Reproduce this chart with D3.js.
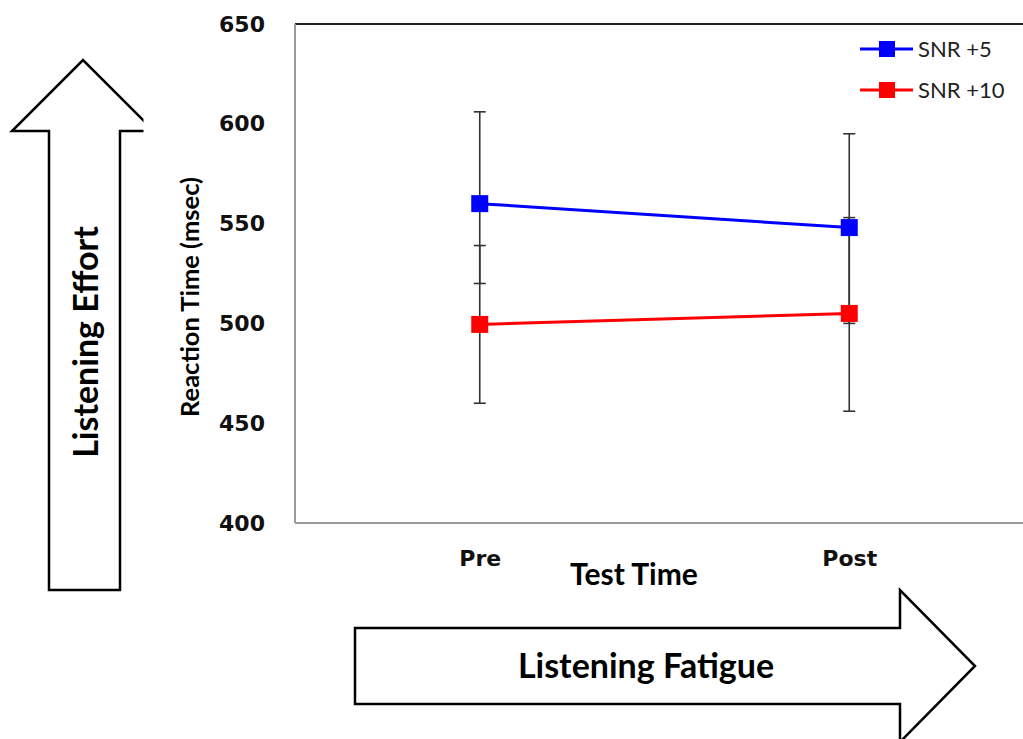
<!DOCTYPE html>
<html>
<head>
<meta charset="utf-8">
<script src="https://cdn.jsdelivr.net/npm/d3@7"></script>
<style>
  body { margin: 0; background: #fff; }
  svg { display: block; }
</style>
</head>
<body>
<svg id="grafica" width="1023" height="739"></svg>
<script>
// data
var categories = ["Pre", "Post"];
var seriesNames = ["SNR +5", "SNR +10"];
var seriesColors = ["#0000ff", "#ff0000"];
var snr5 = [560, 548];
var snr10 = [499.5, 505];
var snr5Low = [520, 500];
var snr5High = [606, 595];
var snr10Low = [460, 456];
var snr10High = [539, 553];
var yTicks = [400, 450, 500, 550, 600, 650];

var series = [
  {name: seriesNames[0], color: seriesColors[0], values: snr5, low: snr5Low, high: snr5High},
  {name: seriesNames[1], color: seriesColors[1], values: snr10, low: snr10Low, high: snr10High}
];

var svg = d3.select("#grafica");
var plot = {left: 295, top: 24, right: 1034, bottom: 523};

var x = d3.scalePoint()
  .domain(categories)
  .range([plot.left, plot.right])
  .padding(0.5);

var y = d3.scaleLinear()
  .domain([400, 650])
  .range([plot.bottom, plot.top]);

// side arrows
var clip = svg.append("clipPath").attr("id", "leftclip")
clip.append("rect").attr("x", 0).attr("y", 0).attr("width", 143.5).attr("height", 739);

var upArrow = [[49, 590], [49, 131], [12, 131], [83, 60], [154, 131], [120, 131], [120, 590]];
svg.append("path")
  .attr("clip-path", "url(#leftclip)")
  .attr("d", "M" + upArrow.join("L") + "Z")
  .attr("fill", "#fff")
  .attr("stroke", "#000")
  .attr("stroke-width", 2.5)
  .attr("stroke-linejoin", "miter");

svg.append("text")
  .attr("transform", "translate(86,342) rotate(-90)")
  .attr("text-anchor", "middle")
  .attr("dy", "0.35em")
  .style("font-family", "Lato, 'Open Sans', sans-serif")
  .style("font-weight", "bold")
  .style("font-size", "34px")
  .text("Listening Effort");

var rightArrow = [[355, 628], [900, 628], [900, 590], [975, 666], [900, 742], [900, 704], [355, 704]];
svg.append("path")
  .attr("d", "M" + rightArrow.join("L") + "Z")
  .attr("fill", "#fff")
  .attr("stroke", "#000")
  .attr("stroke-width", 2.5);

svg.append("text")
  .attr("x", 646)
  .attr("y", 666)
  .attr("text-anchor", "middle")
  .attr("dy", "0.35em")
  .style("font-family", "Lato, 'Open Sans', sans-serif")
  .style("font-weight", "bold")
  .style("font-size", "34px")
  .text("Listening Fatigue");

// plot frame
svg.append("line")
  .attr("x1", plot.left).attr("x2", 1023)
  .attr("y1", plot.top).attr("y2", plot.top)
  .attr("stroke", "#222").attr("stroke-width", 2);
svg.append("line")
  .attr("x1", plot.left).attr("x2", 1023)
  .attr("y1", plot.bottom).attr("y2", plot.bottom)
  .attr("stroke", "#999").attr("stroke-width", 2);
svg.append("line")
  .attr("x1", plot.left).attr("x2", plot.left)
  .attr("y1", plot.top).attr("y2", plot.bottom)
  .attr("stroke", "#999").attr("stroke-width", 2);

// axes
var yAxis = svg.append("g")
  .attr("transform", `translate(${plot.left},0)`)
  .call(d3.axisLeft(y).tickValues(yTicks).tickSize(0).tickPadding(30));
yAxis.select(".domain").remove();
yAxis.selectAll("text")
  .style("font-family", "'DejaVu Sans', sans-serif")
  .style("font-weight", "bold")
  .style("font-size", "22px")
  .attr("fill", "#111");

var xAxis = svg.append("g")
  .attr("transform", `translate(0,${plot.bottom})`)
  .call(d3.axisBottom(x).tickSize(0).tickPadding(27));
xAxis.select(".domain").remove();
xAxis.selectAll("text")
  .style("font-family", "'DejaVu Sans', sans-serif")
  .style("font-weight", "bold")
  .style("font-size", "22px")
  .attr("fill", "#111");

svg.append("text")
  .attr("transform", "translate(190,297) rotate(-90)")
  .attr("text-anchor", "middle")
  .attr("dy", "0.35em")
  .style("font-family", "Lato, 'Open Sans', sans-serif")
  .style("font-weight", "bold")
  .style("font-size", "25.5px")
  .text("Reaction Time (msec)");

svg.append("text")
  .attr("x", 634)
  .attr("y", 585)
  .attr("text-anchor", "middle")
  .style("font-family", "Lato, 'Open Sans', sans-serif")
  .style("font-weight", "bold")
  .style("font-size", "30px")
  .text("Test Time");

// error bars
var capW = 6;
series.forEach(function(s) {
  var g = svg.append("g").attr("stroke", "#333").attr("stroke-width", 1.6);
  categories.forEach(function(c, i) {
    g.append("line")
      .attr("x1", x(c)).attr("x2", x(c))
      .attr("y1", y(s.low[i])).attr("y2", y(s.high[i]));
    [s.low[i], s.high[i]].forEach(function(v) {
      g.append("line")
        .attr("x1", x(c) - capW).attr("x2", x(c) + capW)
        .attr("y1", y(v)).attr("y2", y(v));
    });
  });
});

// lines and markers
var line = d3.line()
  .x(function(d, i) { return x(categories[i]); })
  .y(function(d) { return y(d); });

var mk = 17;
series.forEach(function(s) {
  svg.append("path")
    .attr("d", line(s.values))
    .attr("fill", "none")
    .attr("stroke", s.color)
    .attr("stroke-width", 3);
  svg.selectAll(null)
    .data(s.values)
    .enter().append("rect")
    .attr("x", function(d, i) { return x(categories[i]) - mk / 2; })
    .attr("y", function(d) { return y(d) - mk / 2; })
    .attr("width", mk)
    .attr("height", mk)
    .attr("fill", s.color);
});

// legend
var legend = svg.append("g").attr("transform", "translate(860,49)");
series.forEach(function(s, i) {
  var row = legend.append("g").attr("transform", `translate(0,${i * 41})`);
  row.append("line")
    .attr("x1", 0).attr("x2", 53)
    .attr("y1", 0).attr("y2", 0)
    .attr("stroke", s.color).attr("stroke-width", 3);
  row.append("rect")
    .attr("x", 27 - 8).attr("y", -8)
    .attr("width", 16).attr("height", 16)
    .attr("fill", s.color);
  row.append("text")
    .attr("x", 58)
    .attr("y", 0)
    .attr("dy", "0.35em")
    .style("font-family", "Lato, 'Open Sans', sans-serif")
    .style("font-size", "22px")
    .attr("fill", "#222")
    .text(s.name);
});
</script>
</body>
</html>
